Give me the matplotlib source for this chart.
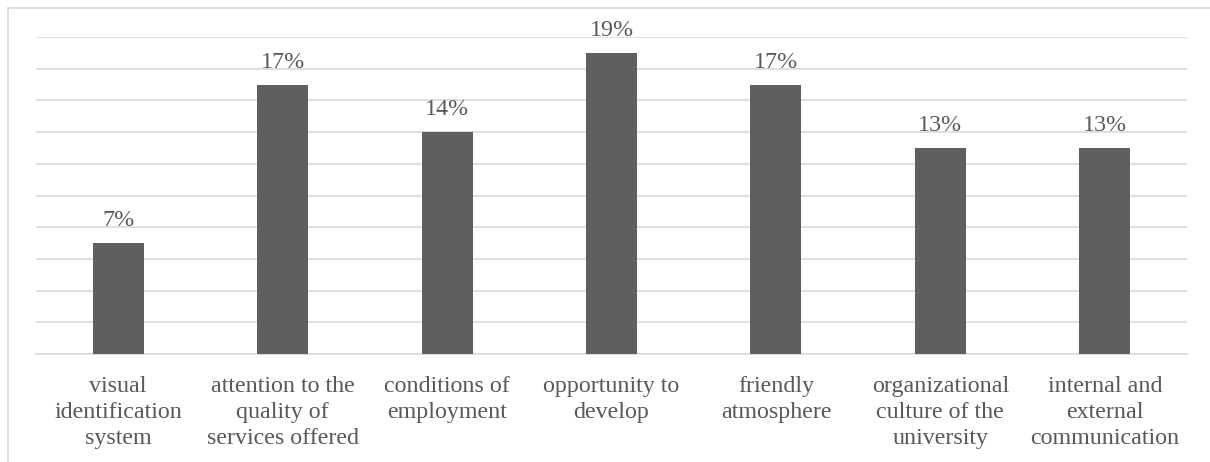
import matplotlib
matplotlib.use("Agg")
import matplotlib.pyplot as plt
from matplotlib.lines import Line2D

categories = [
    "visual\nidentification\nsystem",
    "attention to the\nquality of\nservices offered",
    "conditions of\nemployment",
    "opportunity to\ndevelop",
    "friendly\natmosphere",
    "organizational\nculture of the\nuniversity",
    "internal and\nexternal\ncommunication",
]
shares = [7, 17, 14, 19, 17, 13, 13]
value_labels = ["7%", "17%", "14%", "19%", "17%", "13%", "13%"]

plt.rcParams["font.family"] = ["Liberation Serif", "DejaVu Serif"]

W, H = 1210, 462
fig = plt.figure(figsize=(W / 100, H / 100), dpi=100)
ax = fig.add_axes([36 / W, (H - 354) / H, (1187 - 36) / W, (354 - 37) / H])

text_color = "#595959"
fsize = 17.3

x = list(range(len(categories)))
ax.bar(x, shares, width=0.31, color="#5f5f5f", zorder=3)

ax.set_xlim(-0.5, len(categories) - 0.5)
ax.set_ylim(0, 20)
ax.set_yticks(range(0, 21, 2))
ax.yaxis.grid(True, color="#d9d9d9", linewidth=1.2, zorder=0)
ax.tick_params(axis="y", left=False, labelleft=False)
ax.tick_params(axis="x", length=0, pad=15.5)
ax.set_xticks(x)
ax.set_xticklabels(categories, fontsize=fsize, color=text_color,
                   linespacing=1.34)

for spine in ("left", "right", "top"):
    ax.spines[spine].set_visible(False)
ax.spines["bottom"].set_color("#d9d9d9")
ax.spines["bottom"].set_linewidth(1.2)

for xi, v, lab in zip(x, shares, value_labels):
    ax.annotate(lab, (xi, v), xytext=(0, 8.5), textcoords="offset points",
                ha="center", va="bottom", fontsize=fsize, color=text_color)

# chart area frame (left and top edges)
frame_color = "#d9d9d9"
fig.add_artist(Line2D([7.5 / W, 7.5 / W], [0, (H - 8) / H],
                      transform=fig.transFigure, color=frame_color, lw=1.2))
fig.add_artist(Line2D([7.5 / W, 1], [(H - 8) / H, (H - 8) / H],
                      transform=fig.transFigure, color=frame_color, lw=1.2))

fig.savefig("out.png", dpi=100, facecolor="white")
